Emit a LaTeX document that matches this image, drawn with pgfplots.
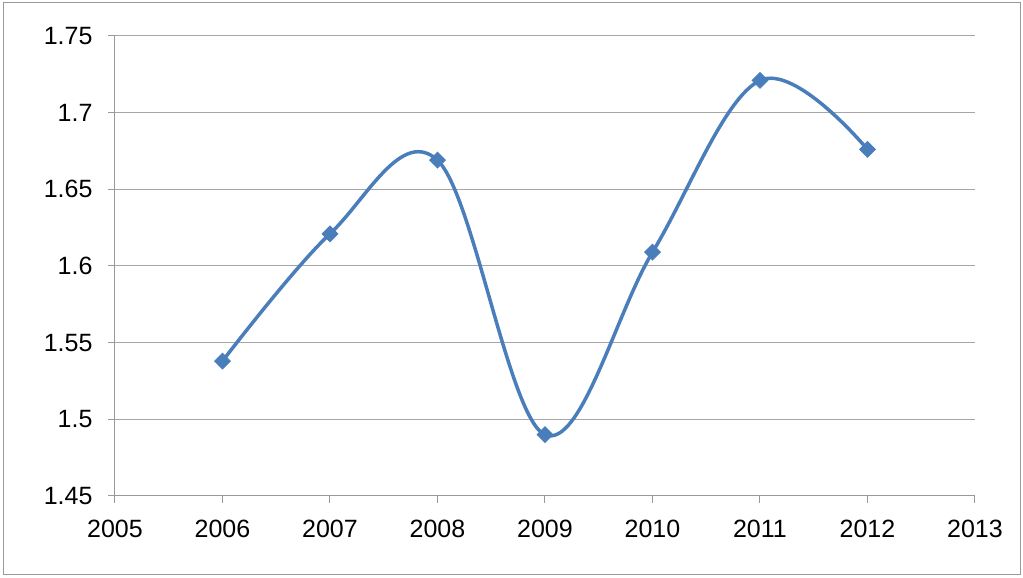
\documentclass[border=0pt]{standalone}
\usepackage{pgfplots}
\pgfplotsset{compat=1.18}
\usepackage{fontspec}
\setmainfont{Liberation Sans}
\definecolor{ser}{HTML}{4A7EBB}
\begin{document}
\begin{tikzpicture}[x=1pt,y=1pt]
\path[use as bounding box] (0,0) rectangle (1023,578);
\draw[gray!80,line width=1pt] (3,3) rectangle (1020,575);
\begin{axis}[at={(115pt,82pt)},anchor=south west,scale only axis,
 width=860pt,height=460pt,
 xmin=2005,xmax=2013,ymin=1.45,ymax=1.75,
 xtick={2005,...,2013},ytick={1.45,1.5,...,1.75},
 yticklabels={1.45,1.5,1.55,1.6,1.65,1.7,1.75},
 xticklabel style={/pgf/number format/1000 sep=,yshift=-14pt},
 yticklabel style={xshift=-12pt},
 /pgf/number format/assume math mode=true,
 tick label style={font=\fontsize{25}{30}\selectfont},
 ymajorgrids, grid style={gray!70,line width=1pt},
 axis x line*=bottom, axis y line*=left,
 axis line style={gray!80,line width=1pt},
 tick style={gray!80,line width=1pt},
 tick align=outside, major tick length=7pt,
]
\addplot[ser,line width=3.5pt,smooth,tension=0.6,mark=square*,mark size=5.5pt,mark options={ser,rotate=45,line width=1pt}]
coordinates {(2006,1.538)(2007,1.621)(2008,1.669)(2009,1.490)(2010,1.609)(2011,1.721)(2012,1.676)};
\end{axis}
\end{tikzpicture}
\end{document}
